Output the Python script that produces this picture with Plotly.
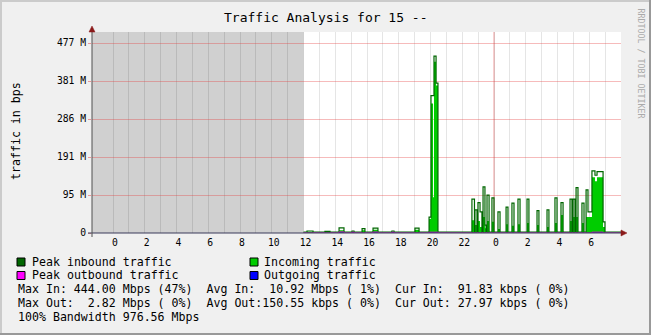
import plotly.graph_objects as go

# ---------------- data (time in hours since first midnight, values in M) ----------------
x_tick_hours = list(range(0, 32))
x_tick_labels = [("%d" % (h % 24)) if h % 2 == 0 else "" for h in x_tick_hours]
y_tick_vals = [0, 95.37, 190.73, 286.10, 381.47, 476.84]
y_tick_labels = ["0", "95 M", "191 M", "286 M", "381 M", "477 M"]

view_start = -1.323
view_end = 32.0
unknown_end = 12.0
y_top = 504.5
midnights = [0, 24]

in_start = [12.22, 13.35, 14.24, 15.06, 15.69, 16.38, 17.57, 19.02,
            19.91, 20.03, 20.16, 20.22, 20.35,
            22.61, 22.80, 22.99, 23.12, 23.31, 23.43, 23.56, 23.87, 24.25, 24.76, 25.13, 25.51,
            26.08, 26.71, 27.34, 27.84, 28.22, 28.79, 28.98, 29.17, 29.54, 29.80, 29.92, 30.17,
            30.36, 30.49, 30.87]
in_end = [12.60, 13.67, 14.55, 15.18, 15.87, 16.69, 17.70, 19.28,
          20.03, 20.16, 20.22, 20.35, 20.47,
          22.77, 22.93, 23.12, 23.24, 23.43, 23.50, 23.69, 24.00, 24.38, 24.88, 25.26, 25.64,
          26.20, 26.83, 27.46, 27.97, 28.35, 28.91, 29.10, 29.29, 29.67, 29.92, 30.17, 30.36,
          30.49, 30.87, 30.99]
in_peak = [5, 4, 13, 5, 11, 12, 5, 12,
           40, 345, 345, 444, 376,
           85, 58, 76, 53, 116, 20, 95, 88, 53, 65, 75, 85,
           85, 56, 58, 88, 76, 85, 85, 114, 75, 108, 53, 156,
           145, 154, 28]
in_avg = [3, 3, 7, 3, 7, 8, 3, 8,
          35, 325, 90, 430, 370,
          32, 20, 30, 15, 40, 12, 30, 28, 10, 22, 18, 22,
          25, 20, 15, 25, 45, 30, 40, 40, 25, 40, 40, 140,
          130, 140, 15]
in_base_peak = 2.5
in_base_avg = 1.2

out_start = [14.24, 15.06, 16.38, 17.57, 19.91, 30.17]
out_end = [14.55, 15.18, 16.69, 17.70, 20.47, 30.87]
out_peak = [2.82, 2.0, 2.5, 2.0, 2.0, 2.2]
out_avg = [1.5, 1.0, 1.5, 1.0, 1.2, 1.5]
out_base_peak = 0.2
out_base_avg = 0.15

title_text = "Traffic Analysis for 15 --"
y_label = "traffic in bps"
watermark = "RRDTOOL / TOBI OETIKER"
legend_items = [("Peak inbound traffic", "#006600"), ("Incoming traffic", "#00CC00"),
                ("Peak outbound traffic", "#FF00FF"), ("Outgoing traffic", "#0000FF")]
stat_lines = [
    "Max In: 444.00 Mbps (47%)  Avg In:  10.92 Mbps ( 1%)  Cur In:  91.83 kbps ( 0%)",
    "Max Out:  2.82 Mbps ( 0%)  Avg Out:150.55 kbps ( 0%)  Cur Out: 27.97 kbps ( 0%)",
    "100% Bandwidth 976.56 Mbps",
]


def steps(starts, ends, vals, base, t0=unknown_end, t1=view_end):
    xs, ys = [t0], [base]
    cur = t0
    for s, e, v in sorted(zip(starts, ends, vals)):
        if abs(s - cur) < 1e-9 and len(xs) > 1:
            ys[-1] = v
        else:
            xs.append(s)
            ys.append(v)
        xs.append(e)
        ys.append(base)
        cur = e
    xs.append(t1)
    ys.append(base)
    return xs, ys


# ---------------- geometry ----------------
W, H = 651, 335
L, R, T, B = 92, 621, 32, 233


def px(X):
    return (X - L) / (R - L)


def py(Y):
    return (B - Y) / (B - T)


MONO = "DejaVu Sans Mono"

fig = go.Figure()

xa, ya = steps(in_start, in_end, in_avg, in_base_avg)
fig.add_trace(go.Scatter(x=xa, y=ya, mode="lines", line=dict(shape="hv", width=0, color="#00CC00"),
                         fill="tozeroy", fillcolor="#00CC00", hoverinfo="skip"))
xp, yp = steps(in_start, in_end, in_peak, in_base_peak)
fig.add_trace(go.Scatter(x=xp, y=yp, mode="lines", line=dict(shape="hv", width=1.2, color="#006600"),
                         hoverinfo="skip"))
xo, yo = steps(out_start, out_end, out_avg, out_base_avg)
fig.add_trace(go.Scatter(x=xo, y=yo, mode="lines", line=dict(shape="hv", width=0, color="#0000FF"),
                         fill="tozeroy", fillcolor="#0000FF", hoverinfo="skip"))
xq, yq = steps(out_start, out_end, out_peak, out_base_peak)
fig.add_trace(go.Scatter(x=xq, y=yq, mode="lines", line=dict(shape="hv", width=1, color="#CC00CC"),
                         hoverinfo="skip"))

shapes = []
# unknown-data region
shapes.append(dict(type="rect", xref="x", yref="y", x0=view_start, x1=unknown_end, y0=0, y1=y_top,
                   fillcolor="#d0d0d0", line=dict(width=0), layer="below"))
# midnight major grid
for m in midnights:
    shapes.append(dict(type="line", xref="x", yref="paper", x0=m, x1=m, y0=0, y1=1,
                       line=dict(color="rgba(230,60,60,0.5)", width=1), layer="between"))
# 3D border
shapes += [
    dict(type="rect", xref="paper", yref="paper", x0=px(0), x1=px(W), y0=py(2), y1=py(0),
         fillcolor="#cbcbcb", line=dict(width=0), layer="below"),
    dict(type="rect", xref="paper", yref="paper", x0=px(0), x1=px(2), y0=py(H), y1=py(0),
         fillcolor="#cbcbcb", line=dict(width=0), layer="below"),
    dict(type="rect", xref="paper", yref="paper", x0=px(0), x1=px(W), y0=py(H), y1=py(H - 2),
         fillcolor="#999999", line=dict(width=0), layer="below"),
    dict(type="rect", xref="paper", yref="paper", x0=px(W - 2), x1=px(W), y0=py(H), y1=py(0),
         fillcolor="#999999", line=dict(width=0), layer="below"),
]
# axis lines
shapes.append(dict(type="line", xref="paper", yref="paper", x0=px(88), x1=px(623), y0=py(233), y1=py(233),
                   line=dict(color="#3a3a5a", width=1), layer="above"))
shapes.append(dict(type="line", xref="paper", yref="paper", x0=px(92), x1=px(92), y0=py(237), y1=py(30),
                   line=dict(color="#505050", width=1), layer="above"))


def tri(pts):
    return "M " + " L ".join("%.5f,%.5f" % (px(a), py(b)) for a, b in pts) + " Z"


shapes.append(dict(type="path", xref="paper", yref="paper", path=tri([(92, 26), (89, 32), (95, 32)]),
                   fillcolor="#8b1a1a", line=dict(color="#8b1a1a", width=0.5), layer="above"))
shapes.append(dict(type="path", xref="paper", yref="paper", path=tri([(627, 233), (621, 230), (621, 236)]),
                   fillcolor="#8b1a1a", line=dict(color="#8b1a1a", width=0.5), layer="above"))

# legend boxes
box_pos = [(17, 258), (250, 258), (17, 271.5), (250, 271.5)]
for (bx, by), (_, col) in zip(box_pos, legend_items):
    shapes.append(dict(type="rect", xref="paper", yref="paper", x0=px(bx), x1=px(bx + 8),
                       y0=py(by + 8), y1=py(by), fillcolor=col, line=dict(color="#000000", width=1),
                       layer="above"))


def nb(s):
    return s.replace(" ", "\u00a0")


ann = []
ann.append(dict(text=nb(title_text), x=px(326), y=py(17), xref="paper", yref="paper",
                xanchor="center", yanchor="middle", showarrow=False,
                font=dict(family=MONO, size=13, color="#000000")))
ann.append(dict(text=nb(y_label), x=px(16), y=py(131), xref="paper", yref="paper", textangle=-90,
                xanchor="center", yanchor="middle", showarrow=False,
                font=dict(family=MONO, size=11.6, color="#000000")))
ann.append(dict(text=nb(watermark), x=px(640.5), y=py(63), xref="paper", yref="paper", textangle=90,
                xanchor="center", yanchor="middle", showarrow=False,
                font=dict(family=MONO, size=8.3, color="#aaaaaa")))
leg_text_pos = [(30.5, 261.7), (263, 261.7), (30.5, 275.3), (263, 275.3)]
for (tx, ty), (name, _) in zip(leg_text_pos, legend_items):
    ann.append(dict(text=nb(name), x=px(tx), y=py(ty), xref="paper", yref="paper",
                    xanchor="left", yanchor="middle", showarrow=False, borderpad=0,
                    font=dict(family=MONO, size=11.6, color="#000000")))
for i, line in enumerate(stat_lines):
    ann.append(dict(text=nb(line), x=px(16.5), y=py(289.3 + 14 * i), xref="paper", yref="paper",
                    xanchor="left", yanchor="middle", showarrow=False, borderpad=0,
                    font=dict(family=MONO, size=11.6, color="#000000")))

fig.update_layout(
    width=W, height=H,
    margin=dict(l=L, r=W - R, t=T, b=H - B, pad=0, autoexpand=False),
    paper_bgcolor="#f0f0f0", plot_bgcolor="#ffffff",
    showlegend=False,
    shapes=shapes, annotations=ann,
    xaxis=dict(range=[view_start, view_end], tickmode="array", tickvals=x_tick_hours,
               ticktext=x_tick_labels, showgrid=True, gridcolor="rgba(0,0,0,0.10)", gridwidth=1,
               zeroline=False, showline=False, ticks="", ticklabelshift=2, ticklabelstandoff=2,
               automargin=False,
               tickfont=dict(family=MONO, size=9.7, color="#000000"), fixedrange=True),
    yaxis=dict(range=[0, y_top], tickmode="array", tickvals=y_tick_vals, ticktext=y_tick_labels,
               showgrid=True, gridcolor="rgba(230,60,60,0.35)", gridwidth=1, zeroline=False,
               showline=False, ticks="outside", ticklen=3, tickcolor="rgba(230,60,60,0.5)",
               automargin=False,
               tickfont=dict(family=MONO, size=9.7, color="#000000"), fixedrange=True),
)

fig.write_html("out.html")
